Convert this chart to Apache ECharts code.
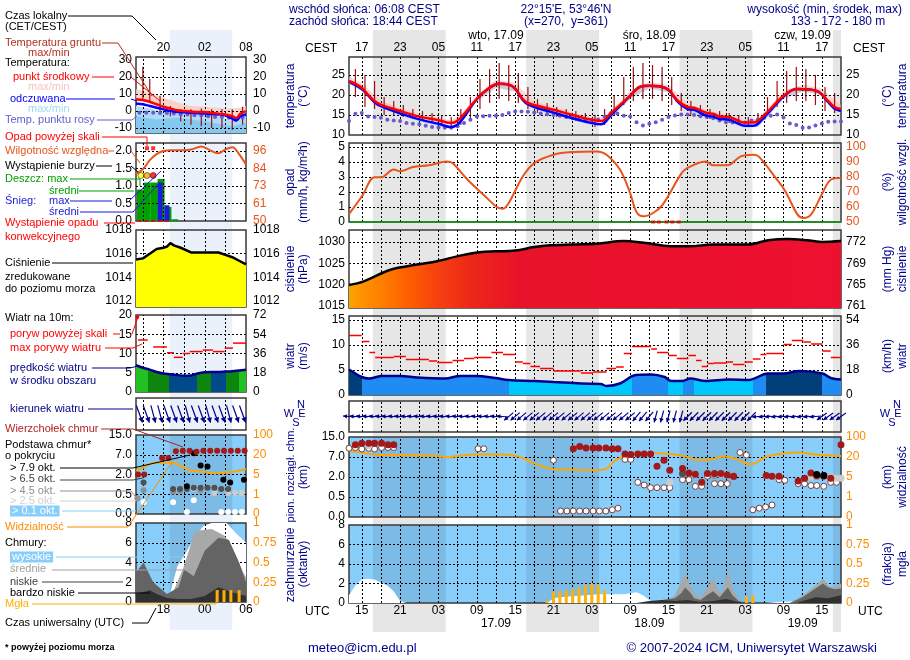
<!DOCTYPE html>
<html><head><meta charset="utf-8">
<script src="https://cdn.jsdelivr.net/npm/echarts@6/dist/echarts.min.js"></script>
<style>html,body{margin:0;padding:0;background:#fff;}#chart{width:910px;height:660px;}</style>
</head><body><div id="chart"></div>
<script>
// ================= DATA =================
const sunriseUTC = 4 + 8/60, sunsetUTC = 16 + 44/60;          // 06:08 / 18:44 CEST
const hourTicks = [15,21,27,33,39,45,51,57,63,69,75,81,87];   // hours since 00 UTC 16.09
const gridHours = [15,18,21,24,27,30,33,36,39,42,45,48,51,54,57,60,63,66,69,72,75,78,81,84,87];
const dayTicks = [36,60,84];
const dayNames = ['wto, 17.09','śro, 18.09','czw, 19.09'];
const dateNames = ['17.09','18.09','19.09'];
const pressTicks = [1015,1020,1025,1030];
const mmTickLabels = ['761','765','769','772'];
const baseTicks = [0,0.5,2,7,15];
const baseTickLabels = ['0.0','0.5','2.0','7.0','15.0'];
const visTicks = [0,1,5,20,100];
const visTickLabels = ['0','1','5','20','100'];

const tempMid = [[13,23.5],[14,22.8],[15,21.8],[16,20.0],[17,18.5],[18,17.6],[21,16.0],[24,14.6],[27,13.7],[29,13.0],[30,13.6],[31,15.2],[33,19.0],[35,21.8],[36.5,22.8],[38,22.6],[39,21.6],[40.5,18.5],[42,17.5],[45,16.3],[48,15.0],[51,13.8],[52.5,13.5],[54,15.5],[57,19.8],[58.5,22.0],[60,22.3],[61.5,22.2],[63,21.3],[64.5,18.5],[66,17.0],[67,16.8],[69,15.5],[70,15.3],[71,14.6],[72.5,14.5],[74,13.5],[75,13.1],[76.5,13.2],[78,15.0],[81,19.8],[83,21.5],[85,21.4],[86.5,20.8],[88,18.5],[89,17.0],[90,16.5]];
const feelsMid = [[13,23.3],[15,21.5],[17,18.2],[18,17.2],[21,15.4],[24,13.9],[27,12.8],[29,12.0],[30,12.6],[31,14.5],[33,19.0],[35,21.8],[36.5,22.8],[38,22.6],[39,21.6],[40.5,18.2],[42,17.0],[45,15.6],[48,14.2],[51,13.0],[52.5,12.7],[54,15.0],[57,19.8],[58.5,22.0],[60,22.3],[61.5,22.2],[63,21.3],[64.5,18.2],[66,16.5],[67,16.3],[69,14.8],[70,14.6],[71,14.0],[72.5,13.8],[74,12.8],[75,12.3],[76.5,12.4],[78,14.5],[81,19.6],[83,21.5],[85,21.4],[86.5,20.8],[88,18.2],[89,16.6],[90,16.0]];
const tempMax = [[13,24.5],[15,23],[18,18.5],[21,16.8],[24,15.2],[27,14.3],[29,13.6],[31,16],[33,20],[36,23.8],[39,23],[42,18.3],[45,17],[48,15.6],[51,14.4],[53,14.5],[55,17.8],[57,21],[60,23.3],[63,22.5],[66,17.8],[69,16.2],[72,15.2],[75,13.8],[77,14.2],[79,17.5],[81,21],[84,22.6],[87,21.6],[90,17.5]];
const tempMin = [[13,23],[15,21.3],[18,17.2],[21,15.6],[24,14.2],[27,13.3],[29,12.6],[31,14.5],[33,18.5],[36,22],[39,21],[42,17],[45,15.8],[48,14.5],[51,13.3],[53,13.3],[55,16.2],[57,19.2],[60,21.8],[63,20.8],[66,16.6],[69,15],[72,14],[75,12.7],[77,12.9],[79,15.8],[81,19.2],[84,21],[87,20.2],[90,16.2]];
const feelsMin = [[13,22.8],[15,21],[18,16.8],[21,14.8],[24,13.4],[27,12.3],[29,11.5],[31,13.8],[33,18.3],[36,21.8],[39,20.8],[42,16.5],[45,15],[48,13.7],[51,12.5],[53,12.5],[55,15.8],[57,19],[60,21.6],[63,20.6],[66,16],[69,14.3],[72,13.3],[75,11.8],[77,12],[79,15.3],[81,19],[84,20.8],[87,20],[90,15.6]];
const dewStart = 13;
const dewPoint = [13.5,15.3,15.5,14.6,14.5,14.3,13.8,13.6,13.5,13.0,12.8,12.7,12.3,12.0,11.9,11.8,11.8,12.2,13.0,13.8,14.6,14.7,14.8,14.8,15.0,15.5,15.9,15.9,15.8,15.6,15.4,15.2,15.0,14.8,14.5,14.2,13.9,13.7,13.8,13.9,14.6,15.5,15.4,14.8,14.6,13.2,12.4,12.8,13.2,13.8,14.5,14.9,15.1,15.1,15.0,14.7,14.5,14.2,13.6,13.2,13.1,13.0,13.1,13.6,13.9,14.3,14.8,15.1,14.4,12.9,12.5,11.8,11.9,12.4,12.9,13.3,13.4,13.4];
const groundT = [[14,19.5,26.5],[15.5,17,25],[17,16.5,23.5],[18.5,15,19.5],[20,15,18.5],[21.5,14.5,17.5],[23,14,16.5],[24.5,13.5,16],[26,13,15.5],[27.5,12.5,15],[29,11.5,14.5],[30.5,12.5,16.5],[32,14,19.5],[33.5,16.5,24],[35,18,26.5],[36.5,19,28],[38,18.5,27.5],[39.5,18,25.5],[41,16.5,22],[42.5,15.5,19],[44,15,18],[45.5,14.5,17],[47,14,16.5],[48.5,13.5,16],[50,13,15.5],[51.5,12,15],[53,12.5,16.5],[54.5,15,20],[56,17.5,24.5],[57.5,18.5,27],[59,19,28],[60.5,19,27.5],[62,18.5,27],[63.5,17.5,24.5],[65,16,20.5],[66.5,15,18.5],[68,14.5,17.5],[69.5,14,16.5],[71,13.5,16],[72.5,13,15.5],[74,12.5,15],[75.5,12,14.5],[77,12.5,15.5],[78.5,15,19.5],[80,17,23.5],[81.5,18,26],[83,18.5,27],[84.5,18.5,26.5],[86,17.5,25],[87.5,16,22],[89,15.5,20.5]];

const humidity = [[13,55.3],[15,67],[17,79.8],[18,79.8],[20,85],[21,83.8],[23,86.7],[25.5,87.8],[28.3,90.4],[29.2,89.3],[31.6,78],[34.1,68],[36.2,59.8],[37.1,58.9],[38,62.7],[40.2,80.4],[42,89.3],[45,94.9],[48,96.7],[51.8,97.1],[53.3,94.9],[55.4,85],[57,69.3],[58,56.7],[59.1,53.8],[60.6,56],[62.1,61.6],[64.9,81.6],[65.8,85.6],[68.8,90.4],[70,87.8],[72.2,87.8],[74.3,93.8],[76.2,94.9],[77.1,93.8],[79.8,79.3],[81.3,70.4],[83.2,54.9],[84.1,52.7],[85.3,54.9],[87.1,69.3],[88.4,78.2],[90,79.3]];
const rainMean = [[13,0],[90,0]];
const precipFlags = [60.6,61.5,62.7,63.6,64.6];

const pressure = [[13,1019.9],[15.2,1020.7],[19.5,1023.5],[23.7,1024.7],[26.8,1025.5],[30.4,1026.8],[33.5,1027.6],[35.9,1027.8],[39,1028],[42,1028.8],[44.5,1029.2],[48.1,1029.4],[51.8,1029.6],[56,1030.2],[59.1,1029.8],[63.4,1029],[66.4,1029],[70.1,1029.4],[75.5,1029.4],[78.6,1030.4],[81.6,1030.7],[84.7,1030.4],[87.1,1030],[90,1030.2]];

const windSpeed = [[13,5.1],[15,3.6],[16.1,3.3],[18.2,3.8],[21,3.8],[23.7,3.5],[28,3.3],[30.4,3.8],[32.9,3.8],[35.9,3.4],[38,3.0],[42,2.8],[45,2.6],[49.3,2.3],[52.4,2.2],[53.3,1.8],[55.4,2.3],[57.9,4.0],[60.3,4.1],[62.4,3.6],[63.4,2.8],[65.2,2.8],[66.4,3.3],[68.8,2.8],[72.5,3.1],[75.5,3.0],[78.6,4.3],[81,4.3],[83.5,4.8],[87.1,4.3],[88.4,3.4],[90,3.1]];
const windClassHours = [13,15,38,57.3,63,65.2,67,76.2,78.3,87.1,90];
const windClass = [2,1,0,1,0,1,0,1,2,1];
const gusts = [[13,15,11.9],[15,16.2,10.7],[16.2,17.1,8.5],[17.1,20,7.5],[20,21.9,7.7],[21.9,25.5,7.1],[25.5,26.8,6.8],[26.8,29.2,6.5],[29.2,31,6.9],[31,32.6,7.3],[32.6,35.3,7.5],[35.3,37.1,8.5],[37.1,39,8.1],[39,40.2,6.6],[40.2,41.4,6.3],[41.4,42.9,5.7],[42.9,45,5.3],[45,49.3,4.8],[49.3,51.2,4.4],[51.2,53.3,4.6],[53.3,54.8,5.3],[54.8,56,5.6],[56,57.3,8.3],[57.3,60.3,9.7],[60.3,61.2,9.2],[61.2,63,8.5],[63,64.3,7.9],[64.3,66.1,7.3],[66.1,67.3,7.9],[67.3,68.2,6.9],[68.2,69.1,5.7],[69.1,70.1,6.3],[70.1,72.2,6.4],[72.2,73.1,6.6],[73.1,74.9,6.1],[74.9,76.2,6.6],[76.2,77.4,7.2],[77.4,78.3,8.1],[78.3,81,8.3],[81,82.3,10.1],[82.3,84.1,10.9],[84.1,85.3,10.6],[85.3,87.1,10.2],[87.1,88.4,8.8],[88.4,90,7.5]];
const windDirStart = 13;
const windDir = [95,95,95,95,95,95,95,95,95,95,95,95,95,95,95,95,95,95,95,95,95,95,95,95,95,
  50,50,50,50,50,50,50,50,50,50,50,50,50,50,50,50,50,50,50,50,
  40,40,40, 15,15,15,15,15,
  45,45,45,45,45,45,45,45,45,45,45,
  85,85,85,85,85,85,85,85,85,85, 55,55,55,55];

const visibility = [[13,44],[15,38],[17.6,28],[20.7,28],[26.8,24],[28.6,19.7],[29.8,24],[32.9,30],[37.1,30],[39.6,21.6],[42,15.2],[45,10.9],[48.1,10.5],[51.8,10.1],[53.3,11.3],[54.8,17.8],[58.5,38],[63.4,32],[65.8,21.6],[67.3,17.8],[69.5,18.2],[71.9,21.6],[74.3,17.2],[75.5,14.6],[76.5,15.2],[78.3,21.6],[83.5,38],[85.9,30],[90,24]];
const cloudTop = [[14,11.9],[15,12.5],[16.1,12.5],[17,12.5],[18.1,12.5],[19.1,11.9],[20,11.9],[48.1,10.3],[49.1,11.2],[50.1,10.6],[51.2,10.6],[52.1,10.6],[53.2,10.6],[54.2,10.3],[55.1,10.3],[56.2,8.2],[57.1,8.0],[58.2,8.2],[59.2,8.2],[60.2,8.2],[61.2,4.7],[62.3,6.2],[63.2,3.7],[65.2,4.1],[66.2,3.0],[67.2,2.7],[68.2,1.6],[69.1,2.9],[70.2,2.9],[71.2,2.9],[72.2,2.5],[73.2,2.2],[78.3,2.4],[79.2,2.2],[80.3,2.2],[83.3,1.7],[84.3,1.9],[85.3,3.0],[86.2,2.4],[87.3,2.4],[88.4,1.9],[90,11.9]];
const base01 = [[13,10.5],[14,10.8],[15,10.2],[16.1,10.5],[17,10.2],[18.1,10.8],[19.1,10.8],[20,10.8],[33.2,10.3],[34.1,10.3],[45,6.2],[46.1,0.15],[47.1,0.15],[48.1,0.15],[49.1,0.15],[50.1,0.15],[51.2,0.15],[52.2,0.15],[53.2,0.15],[54.2,0.18],[55.1,0.22],[56.2,6.4],[57.1,6.4],[58.2,1.6],[59.2,1.4],[60.2,1.2],[61.2,1.2],[62.3,1.2],[63.2,1.2],[65.2,1.8],[66.2,1.8],[67.2,1.3],[68.2,1.3],[69.1,2.2],[70.2,1.5],[71.2,1.5],[72.2,1.5],[73.2,2.1],[74.2,8.8],[75.2,7.8],[76.2,0.18],[77.2,0.22],[78.2,0.25],[79.2,0.3],[80.3,1.8],[81.2,1.75],[83.3,1.5],[84.3,1.5],[85.3,1.36],[86.2,1.36],[87.3,1.3],[88.4,1.6],[89.3,1.6]];
const base25 = [[16.1,11.5],[63.2,1.6],[67.2,2.6],[70.2,2.6],[71.2,2.6],[85.3,2.0],[88.4,2.0],[89.3,1.9],[90,1.9]];
const base45 = [[65.2,2.6],[70.2,2.4],[86.2,2.1]];
const base65 = [[65.2,2.9],[87.3,2.2]];
const base79 = [[86.2,2.6],[87.3,2.4]];

const cloudHigh = [[13,0.8],[14,1.8],[15,2.4],[16,2.5],[17,2.4],[18,2.1],[19,1.8],[20,1.2],[21,0.2],[22,0],[44,0],[45,0.5],[46,0.6],[48,0.7],[50,0.8],[52,0.9],[54,0.9],[56,0.9],[57,1.0],[58,1.1],[59,0.8],[60,0.3],[61,0],[78,0],[80,0.1],[84,0.2],[88,0.3],[90,0.5]];
const cloudMid = [[13,0],[60,0],[62,0.2],[63,0.3],[64,0.8],[65,2.2],[65.6,3.0],[66.3,2.0],[67,1.0],[68,0.5],[69,1.5],[70,2.6],[70.8,1.2],[71.5,1.0],[72.3,3.4],[73,1.5],[74,0.3],[75,0],[82,0],[84,0.8],[86,1.8],[87.2,2.5],[88,1.8],[89,1.6],[90,2.0]];
const cloudLow = [[13,0],[60,0],[62,0.3],[63,0.4],[64,0.5],[65,1.0],[65.6,1.6],[66.5,1.0],[67,0.5],[68,0.3],[69,0.8],[70,1.2],[71,0.6],[72.3,1.6],[73,0.8],[74,0.2],[75,0],[82,0],[84,0.6],[86,1.5],[87.2,2.0],[88,1.6],[89,1.4],[90,1.5]];
const cloudVLow = [[13,0],[58,0],[60,0.2],[62,0.3],[64,0.2],[66,0.3],[68,0.1],[70,0.2],[72,0.4],[74,0.1],[76,0],[83,0],[84,0.2],[86,0.6],[88,0.5],[90,0.8]];
const fog = [[44,0.03],[45,0.15],[46,0.15],[47,0.16],[48,0.18],[49,0.2],[50,0.23],[51,0.25],[52,0.23],[53,0.16],[75.2,0.08],[76.2,0.1]];

// ---- legend (example) mini-charts ----
const legNight = [18.9, 28];
const legGridHours = [15,18,21,24,27];
const legTopTicks = [18,24,30];
const legTempMid = [[14,7],[15,6.5],[16,5.5],[17,4],[18,2.5],[19,1.5],[20,0.5],[21,0],[22,-0.3],[23,-0.5],[24,-0.5],[25,-1],[26,-1.5],[27,-2],[28,-3],[28.6,-4],[29.2,-1.5],[30,0]];
const legFeels = [[14,4.5],[15,4],[16,3],[17,2],[18,1],[19,0],[20,-0.5],[22,-1],[24,-1.5],[26,-2],[27,-2.5],[28,-4.5],[28.6,-5.5],[29.2,-3],[30,-2]];
const legPinkHi = [[14,13],[16,11],[18,8],[20,5],[22,3],[24,2.5],[26,2],[28,1.5],[29,2],[30,3]];
const legPinkLo = [[14,6],[16,4.5],[18,1.5],[20,-0.5],[22,-1],[24,-1],[26,-1.5],[28,-3.5],[29,-2],[30,-1]];
const legBlueHi = [[14,3],[16,1.5],[18,-0.5],[20,-1.5],[22,-2],[24,-2.5],[26,-3],[28,-6],[29,-4],[30,-3]];
const legSkyHi = [[14,-3],[17,-5],[20,-4],[24,-6],[28,-9],[30,-7]];
const legFloor = [[14,-12.9],[30,-12.9]];
const legDew = [[14.5,-1],[15.5,-1],[16.5,-1],[17.5,-1.2],[18.5,-1.2],[19.5,-1.5],[20.5,-2],[21.5,-2],[22.5,-2.5],[23.5,-2.5],[24.5,-3],[25.5,-3.5],[26.5,-3.5],[27.5,-4],[28.5,-5],[29.5,-4]];
const legGround = [[15,6,26],[16,6,19],[17.5,-2,9],[19,-3,3],[20.5,-6,1],[22,-8,1],[23.5,-9,1.5],[25,-10,1],[26.5,-10,1],[28,-11,1],[29.5,-8,2.5]];
const legRain = [[14.5,0.9],[15.5,1.1],[16.5,1.1],[17.5,1.2],[18.5,0.4],[19.5,0.05]];
const legSnow = [[17.5,1.1],[18.5,0.45]];
const legHum = [[14,81],[15,84],[16,90],[17,94],[18,96],[19,96.5],[21,96.5],[22,97],[23.5,99],[25,96],[26,94.5],[27,97],[28,98.5],[29,94],[30,87]];
const legHumTickLabels = ['50','61','73','84','96'];
const legStorm = [[14.7,1.3],[15.6,1.3],[16.5,1.3]];
const legOverScale = [[15.6,2.08],[16.5,2.08]];
const legPrecipFlags = [14.5,15.5,16.5,17.5,18.5];
const legPress = [[14,1015.5],[15,1015.6],[16,1016.0],[17,1016.4],[18,1016.5],[18.5,1016.6],[19,1016.9],[19.5,1016.7],[20.5,1016.5],[22,1016.1],[24,1016.1],[26,1016.1],[27,1015.9],[28,1015.7],[29,1015.4],[30,1015.1]];
const legWind = [[14,7],[15,6.3],[16,5.8],[17,5.2],[18,4.8],[19,4.6],[20,4.4],[21,4.2],[22,4.3],[23,4.8],[24,5.1],[25,5.2],[26,5.2],[27,5.3],[28,5.4],[29,5.6],[30,5.8]];
const legWindClassHours = [14,15.7,18.8,22.9,24.9,27.1,29,30];
const legWindClass = [0,1,2,1,2,1,0];
const legGusts = [[14.3,15.7,13.5],[16.5,18.5,11.7],[18.5,19.5,10.2],[19.5,20.8,9.0],[20.8,21.8,10.0],[21.8,23.7,10.5],[23.7,25.2,10.9],[25.2,26.9,10.5],[26.9,28.1,11.4],[28.1,30,12.7]];
const legGustOver = [[14.2,19.5]];
const legDirStart = 14.5;
const legDir = [340,340,345,345,340,340,340,345,340,340,345,340,340,345,340,340];
const legVis = [[14,8],[15,10],[16,13],[17,14],[18,14],[19,14],[20,13],[21,10],[22,8],[23,7.5],[24,7],[25,6],[26,6],[27,6.5],[28,7],[29,8],[30,9]];
const legTop = [[14.3,2.0],[15.2,2.0],[17.8,6.2],[18.7,6.2],[19.8,8.4],[20.8,8.6],[21.8,8.6],[22.8,8.2],[23.8,8.6],[24.8,8.6],[25.8,8.6],[26.8,8.6],[27.8,8.6],[28.8,8.6],[29.8,8.6]];
const legB79 = [[21.4,1.1],[22.4,7.6],[23.4,4.3],[24.4,4.0],[26.7,1.6],[27.7,1.4],[29.7,1.6]];
const legB65 = [[15.1,1.4],[19.4,0.9],[20.4,0.9],[21.4,0.9],[22.4,1.0],[23.4,1.0],[24.4,1.0],[25.4,1.0],[26.4,0.9],[27.4,0.9]];
const legB45 = [[14.2,0.4],[15.1,0.8],[19.4,0.7],[20.4,0.75],[23.4,0.8]];
const legB25 = [[22.4,0.9],[25.4,0.6],[27.4,0.6],[28.4,0.6],[29.4,0.6]];
const legB01 = [[15.1,0.3],[19.4,0.3],[21.4,0.05],[22.4,0.35],[26.4,0.05],[27.4,0.05],[28.4,0.05],[29.4,0.05]];
const legHigh = [[14,0],[18,0],[19,1],[20,3.6],[21.4,5.2],[22.5,6.5],[23.8,7.7],[25,8],[27.2,8],[28.5,7],[30,6]];
const legMid = [[14,0],[18.8,0],[20,2],[20.9,3.5],[22.6,7.2],[25,7.4],[26.9,6.7],[28,5.5],[29.6,3.0],[30,2.5]];
const legLow = [[14,3],[15.1,4],[16.5,2],[18.5,0.8],[20.2,1.5],[21,3.3],[22.4,2.6],[24,5.2],[26,6.5],[27.5,6.3],[29,4],[30,2]];
const legVLow = [[14,0.8],[15,1.0],[16,1.2],[17,0.8],[18.5,0.4],[20,0.3],[22,0.3],[24,0.6],[26,1.5],[28,1.0],[30,0.6]];
const legFog = [[25.8,0.15],[26.8,0.15],[27.8,0.15],[29,0.15]];

// ================= BUILD =================
const FONT = '"Liberation Sans", Arial, sans-serif';
const NAVY = '#00008b';
const pad2 = n => String(Math.round(n)).padStart(2,'0');
const grids=[], xAxes=[], yAxes=[], series=[], graphics=[];

function toLevel(v, ticks){ for(let i=1;i<ticks.length;i++){ if(v<=ticks[i]) return i-1+(v-ticks[i-1])/(ticks[i]-ticks[i-1]); } return ticks.length-1; }
function nightsFor(x0,x1){ const out=[]; for(let d=-1; d<5; d++){ const a=sunsetUTC+24*d, b=sunriseUTC+24*(d+1); const s=Math.max(a,x0), e=Math.min(b,x1); if(e>s) out.push([s,e]); } return out; }

function yax(gi,pos,mn,mx,ticks,fmt,color,margin){
  return {type:'value', gridIndex:gi, position:pos, min:mn, max:mx, z:60, axisLine:{show:false}, axisTick:{show:false}, splitLine:{show:false},
    axisLabel:{show:!!ticks, customValues:ticks||[], interval:0, hideOverlap:false, showMinLabel:true, showMaxLabel:true,
      formatter:fmt||(v=>String(v)), color:color, fontSize:12, fontFamily:FONT, margin:margin}};
}
function panel(o){
  const gi=grids.length;
  grids.push({left:o.left, width:o.width, top:o.top, height:o.height, show:false, containLabel:false});
  const xi=xAxes.length;
  xAxes.push({type:'value', gridIndex:gi, min:o.x0, max:o.x1, show:false});
  const yl=yAxes.length;
  yAxes.push(yax(gi,'left',o.y0,o.y1,o.lt,o.lf,o.lc||'#000',o.lm??4));
  const yr=yAxes.length;
  yAxes.push(yax(gi,'right',o.r0??o.y0,o.r1??o.y1,o.rt,o.rf,o.rc||'#000',o.rm??5));
  if(o.bg){
    series.push({type:'line', xAxisIndex:xi, yAxisIndex:yl, data:[], z:1, silent:true,
      markArea:{silent:true, data:[[{xAxis:o.x0, itemStyle:{color:o.bg}},{xAxis:o.x1}]].concat(o.nights.map(n=>[{xAxis:n[0], itemStyle:{color:o.bgNight}},{xAxis:n[1]}]))}});
  }
  series.push({type:'line', xAxisIndex:xi, yAxisIndex:yl, data:[], z:20, silent:true,
    markLine:{silent:true, symbol:['none','none'], label:{show:false}, lineStyle:{color:'#000', type:[2,2], width:1},
      data:(o.gx||[]).map(v=>({xAxis:v})).concat((o.gy||[]).map(v=>({yAxis:v})))},
    markArea:{silent:true, itemStyle:{color:'rgba(0,0,0,0)', borderColor:'#3a3a3a', borderWidth:1.5},
      data:[[{xAxis:o.x0,yAxis:o.y0},{xAxis:o.x1,yAxis:o.y1}]]}});
  return {gi,xi,yl,yr};
}
function band(p, hi, lo, color, z){
  return {type:'custom', xAxisIndex:p.xi, yAxisIndex:p.yl, z:z, silent:true, data:[hi[0]],
    renderItem:(params, api)=>({type:'polygon', shape:{points: hi.map(d=>api.coord(d)).concat(lo.slice().reverse().map(d=>api.coord(d)))}, style:{fill:color}})};
}
function vbars(p, data, color, w, z){
  return {type:'custom', xAxisIndex:p.xi, yAxisIndex:p.yl, z:z, silent:true, data:data,
    renderItem:(params, api)=>{ const a=api.coord([api.value(0),api.value(1)]), b=api.coord([api.value(0),api.value(2)]);
      return {type:'line', shape:{x1:a[0],y1:a[1],x2:b[0],y2:b[1]}, style:{stroke:color, lineWidth:w}}; }};
}
function hsegs(p, data, color, w, z){
  return {type:'custom', xAxisIndex:p.xi, yAxisIndex:p.yl, z:z, silent:true, data:data,
    renderItem:(params, api)=>{ const a=api.coord([api.value(0),api.value(2)]), b=api.coord([api.value(1),api.value(2)]);
      return {type:'line', shape:{x1:a[0],y1:a[1],x2:b[0],y2:b[1]}, style:{stroke:color, lineWidth:w}}; }};
}
function fogBars(p, data, color, w, z){
  return {type:'custom', xAxisIndex:p.xi, yAxisIndex:p.yr, z:z, silent:true, data:data,
    renderItem:(params, api)=>{ const a=api.coord([api.value(0),0]), b=api.coord([api.value(0),api.value(1)]);
      return {type:'rect', shape:{x:a[0]-w/2, y:b[1], width:w, height:a[1]-b[1]}, style:{fill:color}}; }};
}
function arrows(p, data, len, head, lw, z){
  return {type:'custom', xAxisIndex:p.xi, yAxisIndex:p.yl, z:z, silent:true, data:data,
    renderItem:(params, api)=>{
      const c=api.coord([api.value(0),0.5]); const a=(api.value(1)+180)*Math.PI/180;
      const ux=Math.sin(a), uy=-Math.cos(a), px=-uy, py=ux;
      const hx=c[0]+ux*len/2, hy=c[1]+uy*len/2, tx=c[0]-ux*len/2, ty=c[1]-uy*len/2;
      const b1=[hx-ux*head+px*head*0.55, hy-uy*head+py*head*0.55], b2=[hx-ux*head-px*head*0.55, hy-uy*head-py*head*0.55];
      return {type:'group', children:[{type:'line', shape:{x1:tx,y1:ty,x2:hx,y2:hy}, style:{stroke:NAVY, lineWidth:lw}},
        {type:'polygon', shape:{points:[[hx,hy],b1,b2]}, style:{fill:NAVY}}]};
    }};
}
function line(p, data, color, w, z, extra){
  return Object.assign({type:'line', xAxisIndex:p.xi, yAxisIndex:p.yl, data:data, z:z, showSymbol:false, symbol:'none', smooth:0.35, silent:true,
    lineStyle:{color:color, width:w}}, extra||{});
}
function area(p, data, color, z){
  return {type:'line', xAxisIndex:p.xi, yAxisIndex:p.yl, data:data, z:z, showSymbol:false, symbol:'none', silent:true,
    lineStyle:{width:0, color:color}, areaStyle:{color:color, opacity:1, origin:'start'}};
}
function dots(p, data, color, size, z, border){
  return {type:'scatter', xAxisIndex:p.xi, yAxisIndex:p.yl, data:data, z:z, silent:true, symbolSize:size,
    itemStyle:{color:color, borderColor:border||color, borderWidth:border?1:0, opacity:1}};
}
function hardGradient(hours, classes, colors, x0, x1){
  const stops=[];
  for(let i=0;i<classes.length;i++){ const c=colors[classes[i]];
    stops.push({offset:(hours[i]-x0)/(x1-x0), color:c}); stops.push({offset:(hours[i+1]-x0)/(x1-x0), color:c}); }
  return new echarts.graphic.LinearGradient(0,0,1,0,stops);
}

// ---------- background grids (night bands) ----------
const MX0=13, MX1=90;
const M = {left:349, width:492, x0:MX0, x1:MX1};
const nightsM = nightsFor(MX0, MX1);
(function(){
  const gi=grids.length; grids.push({left:349, width:492, top:30, height:602, show:false});
  const xi=xAxes.length; xAxes.push({type:'value', gridIndex:gi, min:MX0, max:MX1, show:false});
  const yi=yAxes.length; yAxes.push({type:'value', gridIndex:gi, min:0, max:1, show:false});
  series.push({type:'line', xAxisIndex:xi, yAxisIndex:yi, data:[], z:0, silent:true,
    markArea:{silent:true, itemStyle:{color:'#e6e6e6'}, data:nightsM.map(n=>[{xAxis:n[0]},{xAxis:n[1]}])}});
})();
const LX0=14, LX1=30;
const LG = {left:136, width:110, x0:LX0, x1:LX1};
(function(){
  const gi=grids.length; grids.push({left:136, width:110, top:30, height:600, show:false});
  const xi=xAxes.length; xAxes.push({type:'value', gridIndex:gi, min:LX0, max:LX1, show:false});
  const yi=yAxes.length; yAxes.push({type:'value', gridIndex:gi, min:0, max:1, show:false});
  series.push({type:'line', xAxisIndex:xi, yAxisIndex:yi, data:[], z:0, silent:true,
    markArea:{silent:true, itemStyle:{color:'#eaf1fb'}, data:[[{xAxis:legNight[0]},{xAxis:legNight[1]}]]}});
})();

// ---------- main panels ----------
const pT = panel({...M, top:57, height:78, y0:10, y1:29.5, lt:[10,15,20,25], rt:[10,15,20,25], gx:gridHours, gy:[15,20,25]});
const pP = panel({...M, top:143, height:79, y0:0, y1:5.27, lt:[0,1,2,3,4,5], r0:50, r1:102.7, rt:[50,60,70,80,90,100], rc:'#e8541c', gx:gridHours, gy:[1,2,3,4,5]});
const pPr = panel({...M, top:230, height:78, y0:1014.53, y1:1032.8, lt:pressTicks, rt:pressTicks, rf:v=>mmTickLabels[pressTicks.indexOf(v)], gx:gridHours, gy:pressTicks});
const pW = panel({...M, top:316, height:79, y0:0, y1:15.8, lt:[0,5,10,15], rt:[0,5,10,15], rf:v=>String(Math.round(v*3.6)), gx:gridHours, gy:[5,10,15]});
const pD = panel({...M, top:401, height:31, y0:0, y1:1, gx:gridHours, gy:[]});
const pB = panel({...M, top:437, height:80, y0:0, y1:4, lt:[0,1,2,3,4], lf:v=>baseTickLabels[v], rt:[0,1,2,3,4], rf:v=>visTickLabels[v], rc:'#ff8c00', gx:gridHours, gy:[1,2,3], bg:'#87cefa', bgNight:'#7cbbe6', nights:nightsM});
const pC = panel({...M, top:525, height:78, y0:0, y1:8, lt:[0,2,4,6,8], r0:0, r1:1, rt:[0,0.25,0.5,0.75,1], rc:'#ff8c00', gx:gridHours, gy:[2,4,6], bg:'#87cefa', bgNight:'#7cbbe6', nights:nightsM});

// top/bottom time labels (drawn above the night bands)
function labelAxis(gi, x0, x1, pos, ticks, fmt, margin, offset){
  xAxes.push({type:'value', gridIndex:gi, min:x0, max:x1, position:pos, offset:offset||0, z:60, axisLine:{show:false}, axisTick:{show:false}, splitLine:{show:false},
    axisLabel:{customValues:ticks, interval:0, hideOverlap:false, showMinLabel:true, showMaxLabel:true, formatter:fmt, margin:margin, fontSize:12, fontFamily:FONT, color:'#000'}});
}
labelAxis(pT.gi, MX0, MX1, 'top', hourTicks, v=>pad2((v+2)%24), 3, 0);
labelAxis(pT.gi, MX0, MX1, 'top', dayTicks, v=>dayNames[dayTicks.indexOf(v)], 3, 12);
labelAxis(pC.gi, MX0, MX1, 'bottom', hourTicks, v=>pad2(v%24), 2, 0);
labelAxis(pC.gi, MX0, MX1, 'bottom', dayTicks, v=>dateNames[dayTicks.indexOf(v)], 2, 13);

// temperature
series.push(band(pT, feelsMid, feelsMin, '#b4dcf2', 2));
series.push(band(pT, tempMax, tempMin, 'rgba(250,180,180,0.55)', 3));
series.push(vbars(pT, groundT, '#a01010', 1.2, 4));
series.push(dots(pT, dewPoint.map((v,i)=>[dewStart+i, v]), '#6a5acd', 4, 5));
series.push(line(pT, feelsMid, '#0000ff', 2.5, 6));
series.push(line(pT, tempMid, '#ff0000', 2.5, 7));
// precipitation / humidity
series.push(line(pP, rainMean, '#00a000', 1.5, 5, {smooth:false}));
series.push(Object.assign(line(pP, humidity, '#e8541c', 2, 6), {yAxisIndex:pP.yr}));
series.push({type:'scatter', xAxisIndex:pP.xi, yAxisIndex:pP.yl, data:precipFlags.map(h=>[h,0]), symbol:'rect', symbolSize:[4,3], itemStyle:{color:'#e00000'}, z:7, silent:true});
// pressure
const pressStops = [[13,'#f5a800'],[14.1,'#ff9800'],[17.9,'#ff8000'],[22.5,'#ff5c00'],[27.2,'#f54010'],[31.9,'#ec2818'],[39.8,'#e8122a'],[90,'#ee1030']];
series.push(line(pPr, pressure, '#000', 2.5, 6, {areaStyle:{origin:'start', opacity:1,
  color:new echarts.graphic.LinearGradient(0,0,1,0, pressStops.map(s=>({offset:(s[0]-MX0)/(MX1-MX0), color:s[1]})))}}));
// wind
series.push(line(pW, windSpeed, '#00008b', 2.5, 6, {areaStyle:{origin:'start', opacity:1, color:hardGradient(windClassHours, windClass, ['#00c8ff','#1e8cf0','#003f7a'], MX0, MX1)}}));
series.push(hsegs(pW, gusts, '#ff0000', 1.5, 8));
// wind direction
series.push(arrows(pD, windDir.map((d,i)=>[windDirStart+i, d]), 12, 4, 1.2, 6));
// cloud base / visibility
series.push(line(pB, visibility.map(d=>[d[0], toLevel(d[1], visTicks)]), '#ffa500', 2, 5));
series.push(dots(pB, base01.map(d=>[d[0], toLevel(d[1], baseTicks)]), '#ffffff', 6, 6, '#7a4040'));
series.push(dots(pB, base25.map(d=>[d[0], toLevel(d[1], baseTicks)]), '#cccccc', 7, 7));
series.push(dots(pB, base45.map(d=>[d[0], toLevel(d[1], baseTicks)]), '#909090', 7, 7));
series.push(dots(pB, base65.map(d=>[d[0], toLevel(d[1], baseTicks)]), '#505050', 7, 7));
series.push(dots(pB, base79.map(d=>[d[0], toLevel(d[1], baseTicks)]), '#000000', 7, 8));
series.push(dots(pB, cloudTop.map(d=>[d[0], toLevel(d[1], baseTicks)]), '#a31818', 7, 7));
// cloud cover
series.push(area(pC, cloudHigh, '#ffffff', 4));
series.push(area(pC, cloudMid, '#a8a8a8', 5));
series.push(area(pC, cloudLow, '#646464', 6));
series.push(area(pC, cloudVLow, '#303030', 7));
series.push(fogBars(pC, fog, '#ffb000', 3, 8));

// ---------- legend mini panels ----------
const qT = panel({...LG, top:57, height:76, y0:-12.9, y1:31.8, lt:[-10,0,10,20,30], rt:[-10,0,10,20,30], rm:7, gx:legGridHours, gy:[-10,0,10,20]});
const qP = panel({...LG, top:143, height:78, y0:0, y1:2.23, lt:[0,0.5,1,1.5,2], lf:v=>v.toFixed(1), rt:[0,0.5,1,1.5,2], rf:v=>legHumTickLabels[[0,0.5,1,1.5,2].indexOf(v)], rc:'#e8541c', rm:7, gx:legGridHours, gy:[0.5,1,1.5,2]});
const qPr = panel({...LG, top:230, height:77, y0:1011.49, y1:1018, lt:[1012,1014,1016,1018], rt:[1012,1014,1016,1018], rm:7, gx:legGridHours, gy:[1012,1014,1016]});
const qW = panel({...LG, top:315, height:77, y0:0, y1:20, lt:[0,5,10,15,20], rt:[0,5,10,15,20], rf:v=>String(Math.round(v*3.6)), rm:7, gx:legGridHours, gy:[5,10,15]});
const qD = panel({...LG, top:398, height:32, y0:0, y1:1, gx:legGridHours, gy:[]});
const qB = panel({...LG, top:435, height:79, y0:0, y1:4, lt:[0,1,2,3,4], lf:v=>baseTickLabels[v], rt:[0,1,2,3,4], rf:v=>visTickLabels[v], rc:'#ff8c00', rm:7, gx:legGridHours, gy:[1,2,3], bg:'#87cefa', bgNight:'#7cbbe6', nights:[legNight]});
const qC = panel({...LG, top:523, height:79, y0:0, y1:8, lt:[0,2,4,6,8], r0:0, r1:1, rt:[0,0.25,0.5,0.75,1], rc:'#ff8c00', rm:7, gx:legGridHours, gy:[2,4,6], bg:'#87cefa', bgNight:'#7cbbe6', nights:[legNight]});
labelAxis(qT.gi, LX0, LX1, 'top', legTopTicks, v=>pad2((v+2)%24), 3, 0);
labelAxis(qC.gi, LX0, LX1, 'bottom', legTopTicks, v=>pad2(v%24), 2, 0);

series.push(band(qT, legBlueHi, legFloor, '#aedcf6', 2));
series.push(band(qT, legSkyHi, legFloor, '#86c8f0', 2));
series.push(band(qT, legPinkHi, legPinkLo, 'rgba(250,200,190,0.8)', 3));
series.push(vbars(qT, legGround, '#a01010', 1.2, 4));
series.push(dots(qT, legDew, '#6a5acd', 4, 5));
series.push(line(qT, legFeels, '#0000ff', 2.5, 6));
series.push(line(qT, legTempMid, '#ff0000', 2.5, 7));

series.push({type:'bar', xAxisIndex:qP.xi, yAxisIndex:qP.yl, data:legRain, barWidth:7, itemStyle:{color:'#00a000'}, z:4, silent:true});
series.push({type:'bar', xAxisIndex:qP.xi, yAxisIndex:qP.yl, data:legSnow, barWidth:5, barGap:'-100%', itemStyle:{color:'#1a1adb'}, z:5, silent:true});
series.push(line(qP, legHum.map(d=>[d[0], (d[1]-50)/23]), '#e8541c', 2, 6));
series.push({type:'scatter', xAxisIndex:qP.xi, yAxisIndex:qP.yl, data:legStorm.map((d,i)=>({value:d, itemStyle:{color:['#ffff00','#ffa500','#ff0000'][i]}})), symbolSize:6, itemStyle:{borderColor:'#000', borderWidth:0.6}, z:8, silent:true});
series.push({type:'scatter', xAxisIndex:qP.xi, yAxisIndex:qP.yl, data:legOverScale, symbol:'rect', symbolSize:4, itemStyle:{color:'#ff0000'}, z:8, silent:true});
series.push({type:'scatter', xAxisIndex:qP.xi, yAxisIndex:qP.yl, data:legPrecipFlags.map(h=>[h,0]), symbol:'rect', symbolSize:[4,2], itemStyle:{color:'#e00000'}, z:8, silent:true});

series.push(line(qPr, legPress, '#000', 2.5, 6, {smooth:false, areaStyle:{origin:'start', opacity:1, color:'#ffff00'}}));

series.push(line(qW, legWind, '#00008b', 2.5, 6, {areaStyle:{origin:'start', opacity:1, color:hardGradient(legWindClassHours, legWindClass, ['#22c022','#0e860e','#004a8a'], LX0, LX1)}}));
series.push(hsegs(qW, legGusts, '#ff0000', 1.5, 8));
series.push(dots(qW, legGustOver, '#ff0000', 4, 8));

series.push(arrows(qD, legDir.map((d,i)=>[legDirStart+i, d]), 18, 5, 1.2, 6));

series.push(line(qB, legVis.map(d=>[d[0], toLevel(d[1], visTicks)]), '#ffa500', 2, 5));
series.push(dots(qB, legB01.map(d=>[d[0], toLevel(d[1], baseTicks)]), '#ffffff', 6, 6));
series.push(dots(qB, legB25.map(d=>[d[0], toLevel(d[1], baseTicks)]), '#cccccc', 6, 6));
series.push(dots(qB, legB45.map(d=>[d[0], toLevel(d[1], baseTicks)]), '#909090', 6, 6));
series.push(dots(qB, legB65.map(d=>[d[0], toLevel(d[1], baseTicks)]), '#505050', 6, 6));
series.push(dots(qB, legB79.map(d=>[d[0], toLevel(d[1], baseTicks)]), '#000000', 6, 7));
series.push(dots(qB, legTop.map(d=>[d[0], toLevel(d[1], baseTicks)]), '#a31818', 6, 7));

series.push(area(qC, legHigh, '#ffffff', 4));
series.push(area(qC, legMid, '#a8a8a8', 5));
series.push(area(qC, legLow, '#646464', 6));
series.push(area(qC, legVLow, '#303030', 7));
series.push(fogBars(qC, legFog, '#ffb000', 3, 8));

// ---------- texts ----------
function txt(t, x, y, color, opt){
  opt=opt||{};
  const st={text:t, fill:color||'#000', font:(opt.font||'12px')+' '+FONT, align:opt.align||'left', verticalAlign:'middle'};
  if(opt.bgc){ st.backgroundColor=opt.bgc; st.padding=[0,2,0,2]; }
  graphics.push({type:'text', x:x, y:y, rotation:opt.rot||0, z:100, silent:true, style:st});
}
// header
txt('wschód słońca: 06:08 CEST', 289, 10, NAVY);
txt('zachód słońca: 18:44 CEST', 289, 22, NAVY);
txt('22°15\'E, 53°46\'N', 566, 10, NAVY, {align:'center'});
txt('(x=270,  y=361)', 566, 22, NAVY, {align:'center'});
txt('wysokość (min, środek, max)', 902, 10, NAVY, {align:'right'});
txt('133 - 172 - 180 m', 838, 22, NAVY, {align:'center'});
txt('CEST', 305, 49, '#000'); txt('CEST', 853, 49, '#000');
txt('UTC', 305, 612, '#000'); txt('UTC', 858, 612, '#000');
txt('meteo@icm.edu.pl', 308, 648, NAVY, {font:'13px'});
txt('© 2007-2024 ICM, Uniwersytet Warszawski', 877, 648, NAVY, {font:'13px', align:'right'});
// side rotated labels
const sideLabels = [
 ['temperatura',291,96],['(°C)',304,96],['(°C)',888,96],['temperatura',903,96],
 ['opad',291,182],['(mm/h, kg/m²h)',304,182],['(%)',888,182],['wilgotność wzgl.',903,182],
 ['ciśnienie',291,269],['(hPa)',304,269],['(mm Hg)',888,269],['ciśnienie',903,269],
 ['wiatr',291,356],['(m/s)',304,356],['(km/h)',888,356],['wiatr',903,356],
 ['pion. rozciągł. chm.',291,475,'11px'],['(km)',304,477],['(km)',888,477],['widzialność',903,477],
 ['zachmurzenie',291,565],['(oktanty)',304,564],['(frakcja)',888,564],['mgła',903,564]];
sideLabels.forEach(s=>txt(s[0], s[1], s[2], NAVY, {align:'center', rot:Math.PI/2, font:s[3]||'12px'}));
// compass glyphs
[297, 893].forEach(cx=>{ txt('W', cx-8, 414, NAVY, {font:'11px', align:'center'}); txt('N', cx+4, 405, NAVY, {font:'11px', align:'center'});
  txt('E', cx+5, 414, NAVY, {font:'11px', align:'center'}); txt('S', cx-1, 423, NAVY, {font:'11px', align:'center'}); });
// legend texts
const legendTexts = [
 ['Czas lokalny',5,16,'#000'],['(CET/CEST)',5,27,'#000'],
 ['Temperatura gruntu',5,43,'#b03020'],['max/min',28,53,'#b03020'],
 ['Temperatura:',5,63,'#000'],['punkt środkowy',13,77,'#ff0000'],['max/min',28,87,'#f5c4bc'],
 ['odczuwana',10,99,'#0000ff'],['max/min',28,109,'#a0d8f0'],['Temp. punktu rosy',5,120,'#6060d0'],
 ['Opad powyżej skali',5,137,'#ff0000'],['Wilgotność względna',5,151,'#e8541c'],['Wystąpienie burzy',5,166,'#000'],
 ['Deszcz: max',5,179,'#00a000'],['średni',49,191,'#00a000'],['Śnieg:',5,201,'#1a1adb'],['max',49,201,'#1a1adb'],['średni',49,212,'#1a1adb'],
 ['Wystąpienie opadu',5,223,'#ff0000'],['konwekcyjnego',5,237,'#ff0000'],
 ['Ciśnienie',5,263,'#000'],['zredukowane',5,277,'#000'],['do poziomu morza',5,289,'#000'],
 ['Wiatr na 10m:',5,318,'#000'],['poryw powyżej skali',10,334,'#ff0000'],['max porywy wiatru',10,348,'#ff0000'],
 ['prędkość wiatru',10,368,'#00008b'],['w środku obszaru',10,381,'#00008b'],['kierunek wiatru',10,409,'#00008b'],
 ['Wierzchołek chmur',5,429,'#b22222'],['Podstawa chmur*',5,445,'#000'],['o pokryciu',5,456,'#000'],
 ['> 7.9 okt.',10,468,'#000'],['> 6.5 okt.',10,479,'#404040'],['> 4.5 okt.',10,491,'#909090'],['> 2.5 okt.',10,501,'#d0d0d0'],['> 0.1 okt.',10,511,'#ffffff','#87cefa'],
 ['Widzialność',5,527,'#ff8c00'],['Chmury:',5,543,'#000'],['wysokie',10,557,'#ffffff','#87cefa'],['średnie',10,569,'#a0a0a0'],['niskie',10,582,'#404040'],['bardzo niskie',10,593,'#000'],['Mgła',5,604,'#ffb000'],
 ['Czas uniwersalny (UTC)',5,623,'#000']];
legendTexts.forEach(t=>txt(t[0], t[1], t[2], t[3], t[4]?{bgc:t[4], font:'11px'}:{font:'11px'}));
txt('* powyżej poziomu morza', 5, 648, '#000', {font:'bold 9px'});
const legendLeaders = [
 ['#000',[[68,16],[132,16],[156,40]]], ['#b03020',[[102,43],[118,43],[152,96]]],
 ['#ff0000',[[92,77],[114,77]]], ['#ff0000',[[131,77],[160,101]]],
 ['#0000ff',[[66,99],[115,99]]], ['#0000ff',[[131,99],[137,101]]],
 ['#6060d0',[[97,120],[132,120],[137,116]]], ['#ff0000',[[102,137],[147,137],[147,146]]],
 ['#e8541c',[[108,151],[114,151]]], ['#e8541c',[[131,151],[140,163]]],
 ['#000',[[96,166],[112,166]]], ['#000',[[131,166],[138,172]]],
 ['#00a000',[[70,179],[140,179],[140,186]]], ['#00a000',[[79,191],[134,191]]],
 ['#1a1adb',[[70,201],[112,201]]], ['#1a1adb',[[129,201],[161,171]]], ['#1a1adb',[[80,212],[133,212],[160,182]]],
 ['#ff0000',[[104,223],[135,223]]], ['#000',[[52,263],[133,263]]],
 ['#ff0000',[[113,334],[120,334]]], ['#ff0000',[[132,334],[138,317]]], ['#ff0000',[[105,348],[133,348],[142,344]]],
 ['#00008b',[[92,368],[130,368],[138,366]]], ['#00008b',[[88,409],[133,409]]],
 ['#b22222',[[101,429],[133,429],[183,447]]], ['#000',[[60,468],[133,468],[190,455]]],
 ['#404040',[[60,480],[133,480],[143,478]]], ['#909090',[[60,491],[131,491],[138,500]]],
 ['#d0d0d0',[[60,501],[136,501]]], ['#87cefa',[[62,511],[136,511]]],
 ['#ff8c00',[[67,527],[128,527],[172,462]]], ['#87cefa',[[56,557],[185,557]]], ['#a0a0a0',[[52,570],[192,570]]],
 ['#404040',[[42,582],[123,582]]], ['#000',[[78,593],[150,593]]], ['#ffb000',[[32,604],[216,604],[218,590]]],
 ['#000',[[132,623],[148,623],[156,608]]]];
legendLeaders.forEach(l=>graphics.push({type:'polyline', z:90, silent:true, shape:{points:l[1]}, style:{stroke:l[0], lineWidth:1, fill:null}}));

const chart = echarts.init(document.getElementById('chart'), null, {renderer:'canvas'});
chart.setOption({animation:false, backgroundColor:'#ffffff', textStyle:{fontFamily:FONT},
  grid:grids, xAxis:xAxes, yAxis:yAxes, series:series, graphic:graphics});
</script></body></html>
